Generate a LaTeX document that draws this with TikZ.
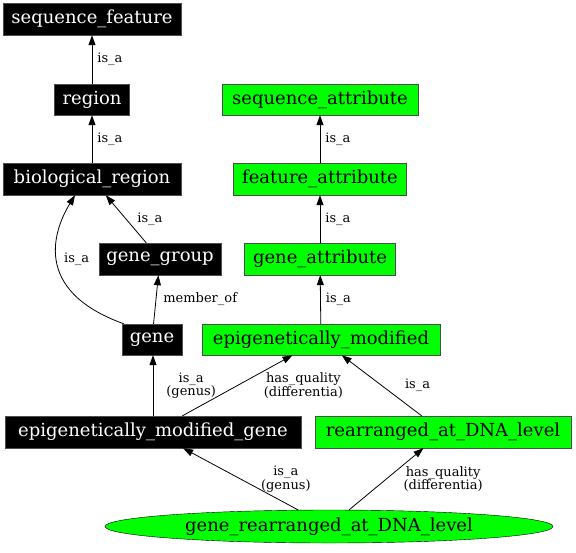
\documentclass[tikz,border=0pt]{standalone}
\usepackage{fontspec}
\setmainfont{DejaVu Serif}
\usepackage{tikz}
\usetikzlibrary{arrows.meta,positioning,shapes}

\begin{document}
\begin{tikzpicture}[x=1pt,y=-1pt,
  term node/.style={rectangle,draw=black!70,fill=black,text=white,inner sep=0pt,minimum height=32pt,font=\fontsize{18}{20}\selectfont},
  attr node/.style={rectangle,draw=black!70,fill=green,inner sep=0pt,minimum height=32pt,font=\fontsize{18}{20}\selectfont},
  rel/.style={-{Triangle[length=10pt,width=7pt]},line width=0.8pt},
  lbl/.style={font=\fontsize{13}{13.5}\selectfont,align=center,inner sep=0pt}]
\useasboundingbox (0,0) rectangle (576,552);
% left hand side: terms
\node[term node,minimum width=178pt] (sf) at (92,19) {sequence\_feature};
\node[term node,minimum width=75pt,minimum height=31pt] (region) at (92,99.5) {region};
\node[term node,minimum width=178pt] (bioregion) at (92,179) {biological\_region};
\node[term node,minimum width=122pt] (genegroup) at (160,259) {gene\_group};
\node[term node,minimum width=60pt,minimum height=31pt] (gene) at (152,339.5) {gene};
\node[term node,minimum width=296pt] (emgene) at (153,432) {epigenetically\_modified\_gene};
% right hand side: attributes
\node[attr node,minimum width=196pt,minimum height=31pt] (seqattr) at (320,99.5) {sequence\_attribute};
\node[attr node,minimum width=173pt] (featattr) at (320,179) {feature\_attribute};
\node[attr node,minimum width=151pt] (geneattr) at (320,259) {gene\_attribute};
\node[attr node,minimum width=238pt,minimum height=31pt] (epimod) at (321,339.5) {epigenetically\_modified};
\node[attr node,minimum width=256pt] (rearr) at (443,432) {rearranged\_at\_DNA\_level};
\node[ellipse,draw=black,fill=green,inner sep=0pt,minimum width=448pt,minimum height=33pt,font=\fontsize{18}{20}\selectfont] (grdl) at (329,526.5) {gene\_rearranged\_at\_DNA\_level};

\draw[rel] (region) -- node[lbl,right=5pt]{is\_a} (sf);
\draw[rel] (bioregion) -- node[lbl,right=5pt]{is\_a} (region);
\draw[rel] (genegroup) -- node[lbl,right=11pt]{is\_a} (bioregion);
\draw[rel] ([xshift=2pt]gene.north west) .. controls (30,290) and (55,228) .. node[lbl,right=7pt]{is\_a} ([xshift=-17pt]bioregion.south);
\draw[rel] (gene) -- node[lbl,right=7pt]{member\_of} (genegroup);
\draw[rel] (emgene.north) -- node[lbl,right=13pt]{is\_a\\(genus)} (emgene.north |- gene.south);
\draw[rel] (emgene) -- node[lbl,right=26pt]{has\_quality\\(differentia)} (epimod);
\draw[rel] (rearr) -- node[lbl,right=23pt]{is\_a} (epimod);
\draw[rel] (epimod) -- node[lbl,right=5pt]{is\_a} (geneattr);
\draw[rel] (geneattr) -- node[lbl,right=5pt]{is\_a} (featattr);
\draw[rel] (featattr) -- node[lbl,right=5pt]{is\_a} (seqattr);
\draw[rel] (grdl) -- node[lbl,right=20pt]{is\_a\\(genus)} (emgene);
\draw[rel] (grdl) -- node[lbl,right=17pt]{has\_quality\\(differentia)} (rearr);
\end{tikzpicture}
\end{document}
